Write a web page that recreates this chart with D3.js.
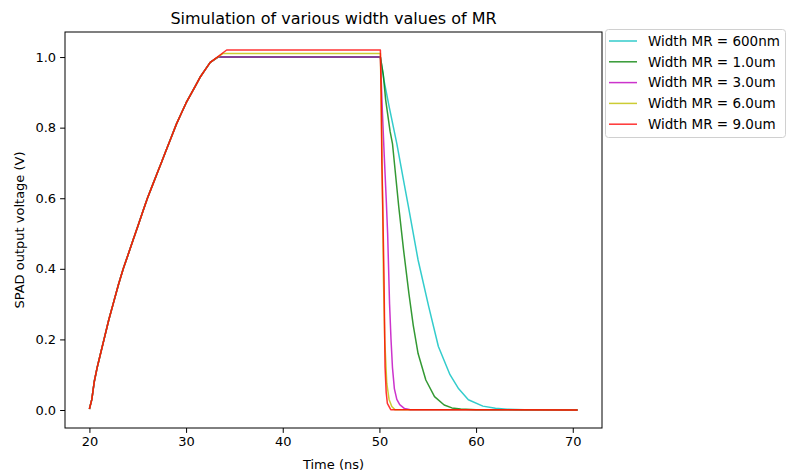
<!DOCTYPE html>
<html>
<head>
<meta charset="utf-8">
<script src="https://cdn.jsdelivr.net/npm/d3@7/dist/d3.min.js"></script>
<style>
  body { margin: 0; background: #fff; }
  svg { display: block; font-family: "DejaVu Sans", sans-serif; }
</style>
</head>
<body>
<div id="chart"></div>
<script>
// rising edge, shared by every width (ns, V)
const riseCommon = [
  [20.0, 0.003], [20.25, 0.03], [20.5, 0.08], [20.8, 0.12], [21.2, 0.165],
  [21.6, 0.21], [22.0, 0.255], [22.5, 0.305], [23.0, 0.355], [23.5, 0.4],
  [24.0, 0.44], [24.5, 0.48], [25.0, 0.52], [25.5, 0.56], [26.0, 0.6],
  [26.5, 0.635], [27.0, 0.67], [27.5, 0.705], [28.0, 0.74], [28.5, 0.775],
  [29.0, 0.81], [29.5, 0.84], [30.0, 0.87], [30.5, 0.895], [31.0, 0.92],
  [31.5, 0.945], [32.0, 0.965], [32.5, 0.985]
];

const fall600nm = [
  [33.3, 1.0], [50.1, 1.0], [50.5, 0.93], [51.0, 0.86], [51.8, 0.755],
  [52.5, 0.65], [53.0, 0.576], [54.0, 0.425], [55.1, 0.293], [56.1, 0.18],
  [57.3, 0.1], [58.2, 0.06], [59.2, 0.029], [60.7, 0.011], [62.0, 0.005],
  [63.2, 0.002], [65.0, 0.001], [70.5, 0.0]
];
const fall1um = [
  [33.3, 1.0], [50.1, 1.0], [50.4, 0.95], [50.65, 0.878], [51.1, 0.79],
  [51.35, 0.755], [52.0, 0.576], [52.5, 0.453], [53.05, 0.33], [53.5, 0.24],
  [54.0, 0.16], [54.8, 0.085], [55.7, 0.038], [56.7, 0.014], [57.5, 0.006],
  [58.4, 0.003], [60.0, 0.001], [70.5, 0.0]
];
const fall3um = [
  [33.3, 1.0], [50.1, 1.0], [50.3, 0.85], [50.5, 0.72], [50.7, 0.6],
  [50.85, 0.5], [50.95, 0.4], [51.05, 0.3], [51.2, 0.2], [51.35, 0.12],
  [51.55, 0.06], [51.8, 0.03], [52.1, 0.015], [52.6, 0.004], [53.2, 0.001],
  [70.5, 0.0]
];
const fall6um = [
  [33.8, 1.01], [50.1, 1.01], [50.2, 0.85], [50.3, 0.65], [50.42, 0.37],
  [50.55, 0.2], [50.76, 0.076], [51.0, 0.03], [51.28, 0.01], [51.6, 0.001],
  [70.5, 0.0]
];
const fall9um = [
  [34.2, 1.02], [50.1, 1.02], [50.18, 0.9], [50.25, 0.7], [50.34, 0.585],
  [50.48, 0.368], [50.58, 0.123], [50.7, 0.05], [50.82, 0.019], [51.17, 0.001],
  [70.5, 0.0]
];

const seriesNames = ['Width MR = 600nm', 'Width MR = 1.0um', 'Width MR = 3.0um', 'Width MR = 6.0um', 'Width MR = 9.0um'];
const seriesColors = ['#00bfbf', '#008000', '#bf00bf', '#bfbf00', '#ff0000'];
const seriesData = [fall600nm, fall1um, fall3um, fall6um, fall9um].map(f => riseCommon.concat(f));

const xTicks = [20, 30, 40, 50, 60, 70];
const yTicks = [0.0, 0.2, 0.4, 0.6, 0.8, 1.0];

const width = 786, height = 472;
const plot = { left: 65, right: 602, top: 32, bottom: 428 };

const svg = d3.select('#chart').append('svg')
  .attr('width', width)
  .attr('height', height);

// matplotlib-like 5% margins
const xScale = d3.scaleLinear().domain([17.475, 73.025]).range([plot.left, plot.right]);
const yScale = d3.scaleLinear().domain([-0.051, 1.071]).range([plot.bottom, plot.top]);

const line = d3.line()
  .x(d => xScale(d[0]))
  .y(d => yScale(d[1]));

svg.append('defs').append('clipPath').attr('id', 'clip')
  .append('rect')
  .attr('x', plot.left).attr('y', plot.top)
  .attr('width', plot.right - plot.left).attr('height', plot.bottom - plot.top);

const lines = svg.append('g').attr('clip-path', 'url(#clip)');
seriesData.forEach((d, i) => {
  lines.append('path')
    .datum(d)
    .attr('d', line)
    .attr('fill', 'none')
    .attr('stroke', seriesColors[i])
    .attr('stroke-opacity', 0.8)
    .attr('stroke-width', 1.5)
    .attr('stroke-linejoin', 'round');
});

// axes
const xAxis = svg.append('g')
  .attr('transform', `translate(0,${plot.bottom})`)
  .call(d3.axisBottom(xScale).tickValues(xTicks).tickSize(4.9).tickPadding(4).tickFormat(d3.format('d')));
const yAxis = svg.append('g')
  .attr('transform', `translate(${plot.left},0)`)
  .call(d3.axisLeft(yScale).tickValues(yTicks).tickSize(4.9).tickPadding(4).tickFormat(d3.format('.1f')));

[xAxis, yAxis].forEach(a => {
  a.select('.domain').remove();
  a.selectAll('text').style('font-size', '13px').style('font-family', '"DejaVu Sans", sans-serif').attr('fill', '#000');
  a.selectAll('line').attr('stroke', '#000').attr('stroke-width', 1);
});

svg.append('rect')
  .attr('x', plot.left).attr('y', plot.top)
  .attr('width', plot.right - plot.left).attr('height', plot.bottom - plot.top)
  .attr('fill', 'none')
  .attr('stroke', '#000')
  .attr('stroke-width', 1);

// labels
svg.append('text')
  .attr('x', (plot.left + plot.right) / 2)
  .attr('y', 24)
  .attr('text-anchor', 'middle')
  .style('font-size', '16px')
  .text('Simulation of various width values of MR');

svg.append('text')
  .attr('x', (plot.left + plot.right) / 2)
  .attr('y', 469)
  .attr('text-anchor', 'middle')
  .style('font-size', '13px')
  .text('Time (ns)');

svg.append('text')
  .attr('transform', `translate(24,${(plot.top + plot.bottom) / 2}) rotate(-90)`)
  .attr('text-anchor', 'middle')
  .style('font-size', '13px')
  .text('SPAD output voltage (V)');

// legend
const legend = svg.append('g').attr('transform', 'translate(605,29)');
legend.append('rect')
  .attr('x', 0.5).attr('y', 0.5)
  .attr('width', 180).attr('height', 108)
  .attr('rx', 3)
  .attr('fill', '#fff')
  .attr('fill-opacity', 0.8)
  .attr('stroke', '#d0d0d0');

const items = legend.selectAll('.legend-item')
  .data(seriesNames)
  .enter()
  .append('g')
  .attr('class', 'legend-item')
  .attr('transform', (d, i) => `translate(0,${12 + i * 20.8})`);

items.append('line')
  .attr('x1', 4).attr('x2', 32)
  .attr('stroke', (d, i) => seriesColors[i])
  .attr('stroke-opacity', 0.8)
  .attr('stroke-width', 1.5);

items.append('text')
  .attr('x', 43)
  .attr('y', 4.8)
  .style('font-size', '13.5px')
  .text(d => d);
</script>
</body>
</html>
